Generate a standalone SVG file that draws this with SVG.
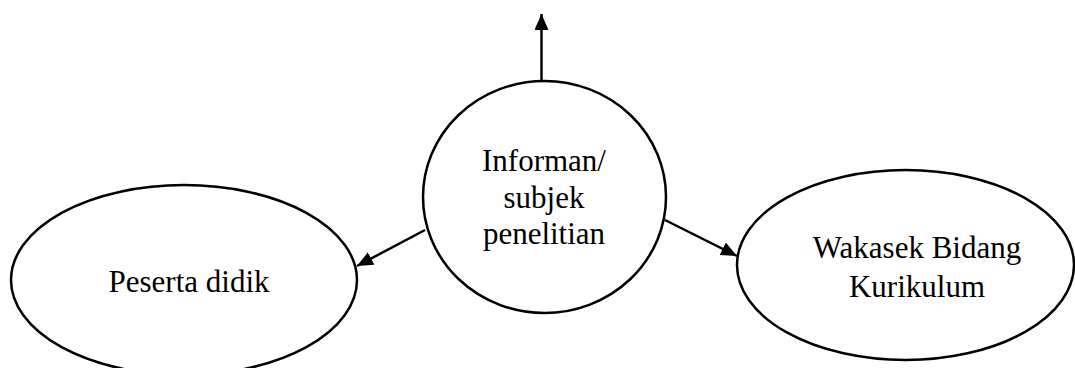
<svg xmlns="http://www.w3.org/2000/svg" width="1075" height="368" viewBox="0 0 1075 368">
  <style>
    .node { fill: #ffffff; stroke: #000000; stroke-width: 2.5; }
    .label { font-family: "Liberation Serif", "Times New Roman", serif; font-size: 31px; fill: #000000; text-anchor: middle; }
    .edge { stroke: #000000; stroke-width: 2.5; fill: none; marker-end: url(#arrow); }
  </style>
  <defs>
    <marker id="arrow" markerUnits="userSpaceOnUse" markerWidth="17" markerHeight="15" refX="16" refY="7" orient="auto">
      <path d="M0,0 L16,7 L0,14 z" fill="#000000"/>
    </marker>
  </defs>
  <rect width="1075" height="368" fill="#ffffff"/>

  <g id="connectors">
    <line class="edge" x1="541.5" y1="81" x2="541.5" y2="14"/>
    <line class="edge" x1="425" y1="230" x2="357" y2="266"/>
    <line class="edge" x1="665" y1="220" x2="737" y2="256"/>
  </g>

  <g id="informan">
    <ellipse class="node" cx="544.5" cy="197" rx="121.5" ry="116"/>
    <text class="label" x="544" y="171">Informan/</text>
    <text class="label" x="544" y="208">subjek</text>
    <text class="label" x="544" y="244">penelitian</text>
  </g>

  <g id="peserta-didik">
    <ellipse class="node" cx="184" cy="280" rx="173" ry="95"/>
    <text class="label" x="189" y="292">Peserta didik</text>
  </g>

  <g id="wakasek-kurikulum">
    <ellipse class="node" cx="905.5" cy="265" rx="168.5" ry="95"/>
    <text class="label" x="917" y="258">Wakasek Bidang</text>
    <text class="label" x="917" y="297">Kurikulum</text>
  </g>
</svg>
